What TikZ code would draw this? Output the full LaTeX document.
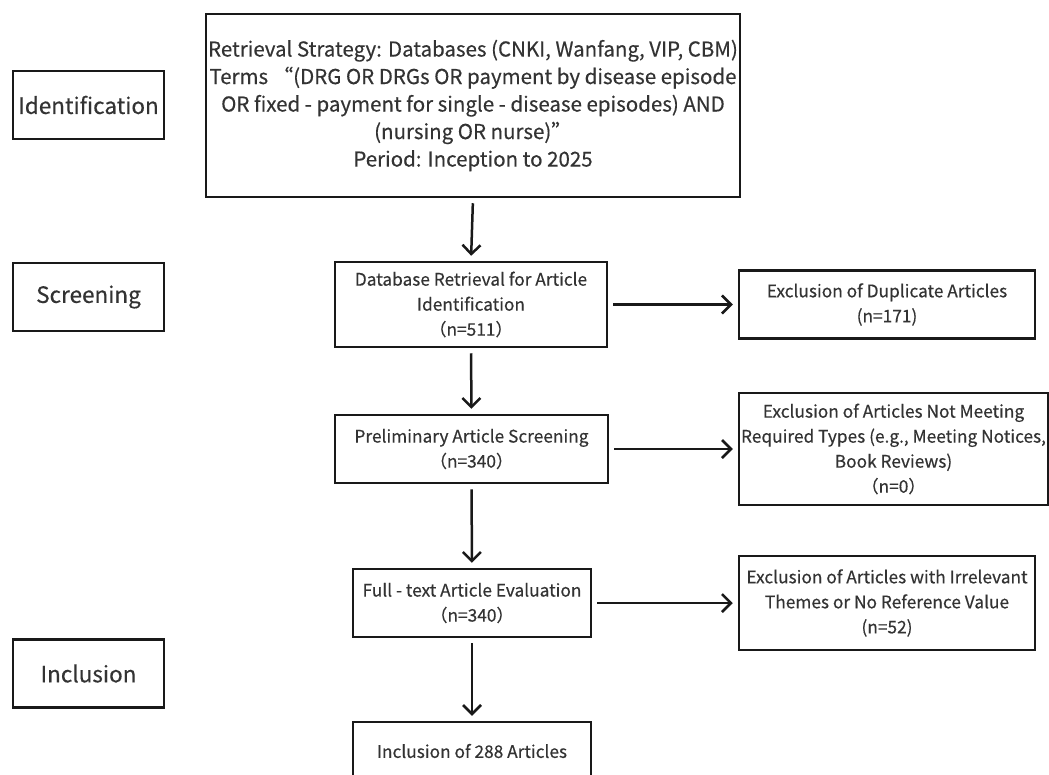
\documentclass[tikz,border=0pt]{standalone}
\usepackage{fontspec}
\setmainfont{Noto Sans CJK SC}[FakeBold=0.4]
\usepackage{tikz}
\usetikzlibrary{positioning, arrows.meta}

\begin{document}
\begin{tikzpicture}[x=1pt, y=-1pt,
    box/.style={draw=black!90, line width=2.5pt, text=black!80, align=center, inner sep=0pt,
        font=\fontsize{17.3}{25}\selectfont},
    stagebox/.style={box, minimum width=151pt, minimum height=68pt, font=\fontsize{22.5}{27}\selectfont},
    arrow/.style={draw=black!90, line width=2.5pt, -{Straight Barb[length=9pt,width=18pt]},
        shorten <=5pt, shorten >=5pt}]
    \useasboundingbox (0,0) rectangle (1049,774);
    % stages
    \node[stagebox] (stage_1) at (88.5,105) {Identification};
    \node[stagebox] (stage_2) at (88.5,297) {Screening};
    \node[stagebox] (stage_3) at (88.5,673.5) {Inclusion};
    % main flow
    \node[box, minimum width=534pt, minimum height=183pt, font=\fontsize{20.5}{27.5}\selectfont] (flow_1) at (473,105.5)
        {Retrieval Strategy: Databases (CNKI, Wanfang, VIP, CBM)\\
         Terms “(DRG OR DRGs OR payment by disease episode\\
         OR fixed - payment for single - disease episodes) AND\\
         (nursing OR nurse)”\\
         Period: Inception to 2025};
    \node[box, minimum width=272pt, minimum height=85pt] (flow_2) at (471,304.5)
        {Database Retrieval for Article\\Identification\\（n=511）};
    \node[box, minimum width=273pt, minimum height=68pt] (flow_3) at (471.5,449)
        {Preliminary Article Screening\\（n=340）};
    \node[box, minimum width=238pt, minimum height=68pt] (flow_4) at (472,603)
        {Full - text Article Evaluation\\（n=340）};
    \node[box, minimum width=238pt, minimum height=58pt] (flow_5) at (472,751)
        {Inclusion of 288 Articles};
    % exclusions
    \node[box, minimum width=296pt, minimum height=68pt] (excl_1) at (887,304.5)
        {Exclusion of Duplicate Articles\\(n=171)};
    \node[box, minimum width=309pt, minimum height=112pt] (excl_2) at (893.5,449)
        {Exclusion of Articles Not Meeting\\Required Types (e.g., Meeting Notices,\\Book Reviews)\\（n=0）};
    \node[box, minimum width=296pt, minimum height=94pt] (excl_3) at (887,603)
        {Exclusion of Articles with Irrelevant\\Themes or No Reference Value\\(n=52)};
    \draw[arrow] (flow_1.south) -- (flow_2.north);
    \draw[arrow] (flow_2.south) -- (flow_3.north);
    \draw[arrow] (flow_3.south) -- (flow_4.north);
    \draw[arrow] (flow_4.south) -- (flow_5.north);
    \draw[arrow] (flow_2.east) -- (excl_1.west);
    \draw[arrow] (flow_3.east) -- (excl_2.west);
    \draw[arrow] (flow_4.east) -- (excl_3.west);
\end{tikzpicture}
\end{document}
